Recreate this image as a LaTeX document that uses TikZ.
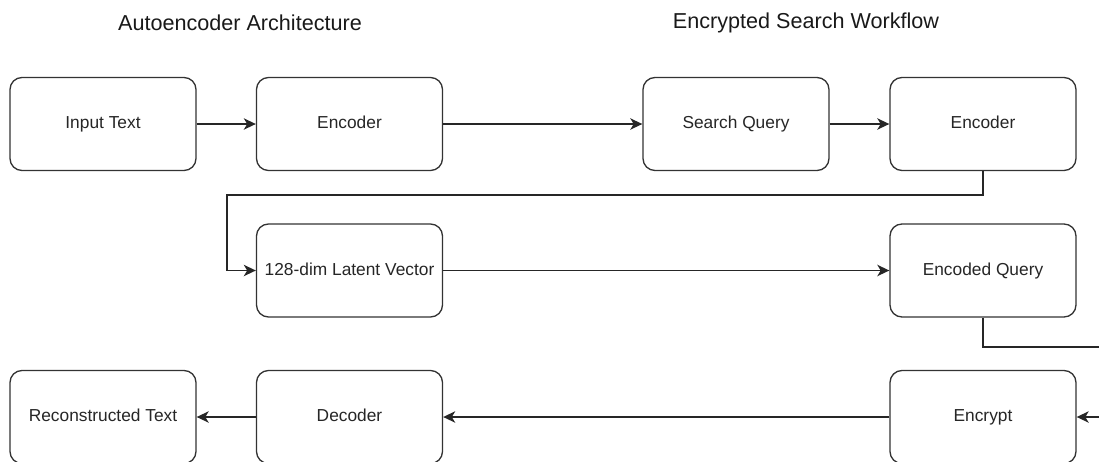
\documentclass[tikz,border=0pt]{standalone}
\usepackage{fontspec}
\setmainfont{Liberation Sans}
\usepackage{tikz}
\usetikzlibrary{arrows.meta}
\usetikzlibrary{positioning}

\begin{document}
\begin{tikzpicture}
			[x=0.75pt,y=-0.75pt,
			box/.style={draw=black!80,line width=1pt,rounded corners=9pt,fill=white,
				minimum width=139.5pt,minimum height=69.75pt,inner sep=0pt,
				text height=0.72em,text depth=0pt,
				font=\fontsize{13}{15}\selectfont,text=black!85},
			heading/.style={font=\fontsize{16.2}{19}\selectfont,text=black!90},
			link/.style={draw=black!85,line width=1.1pt,-{Stealth[length=9pt,width=8.5pt,inset=2.5pt]}}]
			\clip (0,0) rectangle (1099,461);
			
			% titles
			\node[heading] (tauto) at (240,23) {Autoencoder Architecture};
			\node[heading] (tsearch) at (806,23) {Encrypted Search Workflow};
			
			% boxes
			\node[box] (inp) at (103,124) {Input Text};
			\node[box] (enc) at (349.5,124) {Encoder};
			\node[box] (query) at (736,124) {Search Query};
			\node[box] (qenc) at (983,124) {Encoder};
			\node[box] (latent) at (349.5,270.5) {128-dim Latent Vector};
			\node[box] (qcode) at (983,270.5) {Encoded Query};
			\node[box] (recon) at (103,417) {Reconstructed Text};
			\node[box] (dec) at (349.5,417) {Decoder};
			\node[box] (encrypt) at (983,417) {Encrypt};
			
			\coordinate (bendl) at (227,195);
			\coordinate (bendr) at (1130,347);
			
			\foreach \from/\to in
			{inp/enc, enc/query, query/qenc, latent/qcode, encrypt/dec, dec/recon}
			\draw[link] (\from) -- (\to);
			
			\draw[link] (qenc.south) |- (bendl) |- (latent.west);
			\draw[link] (qcode.south) |- (bendr) |- (encrypt.east);
			\end{tikzpicture}
\end{document}
